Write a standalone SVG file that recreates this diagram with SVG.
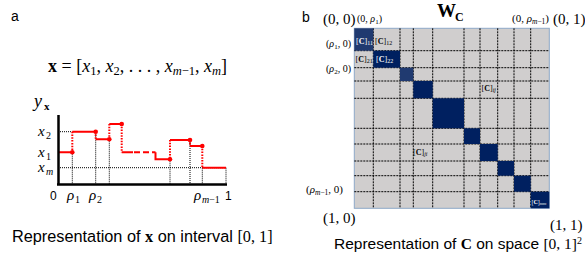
<svg xmlns="http://www.w3.org/2000/svg" width="585" height="255" viewBox="0 0 585 255">
<style>
.sans{font-family:"Liberation Sans","DejaVu Sans",sans-serif;fill:#000}
.ser{font-family:"Liberation Serif","DejaVu Serif",serif;fill:#000}
.it{font-style:italic}
.bd{font-weight:bold}
.red{stroke:#ff0000;stroke-width:2;fill:none}
.rdot{stroke:#ff0000;stroke-width:2;stroke-dasharray:1.5 1.3;fill:none}
.kdot{stroke:#000;stroke-width:1;stroke-dasharray:1 1;fill:none}
.grid{stroke:#000;stroke-width:1;stroke-dasharray:2 1;fill:none}
.dk{fill:#002060}
.lt{fill:#203a70}
.wt{fill:#ffffff}
</style>
<rect width="585" height="255" fill="#fff"/>

<g id="panel-a">
<text class="sans" x="11" y="21" font-size="14">a</text>
<text class="ser" x="48" y="72" font-size="18"><tspan class="bd">x</tspan> = [<tspan class="it">x</tspan><tspan font-size="12.5" dy="3">1</tspan><tspan dy="-3">, </tspan><tspan class="it">x</tspan><tspan font-size="12.5" dy="3">2</tspan><tspan dy="-3">, . . . , </tspan><tspan class="it">x</tspan><tspan font-size="12.5" dy="3"><tspan class="it">m</tspan>−1</tspan><tspan dy="-3">, </tspan><tspan class="it">x</tspan><tspan font-size="12.5" dy="3" class="it">m</tspan><tspan dy="-3">]</tspan></text>

<g id="axes">
<text class="ser it" x="34" y="107" font-size="18">y</text>
<text class="ser bd" x="44" y="110" font-size="11">x</text>
<text class="ser it" x="38" y="136" font-size="15">x</text><text class="ser" x="46" y="139" font-size="10">2</text>
<text class="ser it" x="38" y="157" font-size="15">x</text><text class="ser" x="46" y="160" font-size="10">1</text>
<text class="ser it" x="38" y="172" font-size="15">x</text><text class="ser it" x="46" y="175" font-size="10">m</text>
<text class="sans" x="50" y="200" font-size="12">0</text>
<text class="ser it" x="67" y="200" font-size="15">ρ</text><text class="ser" x="75" y="203" font-size="10">1</text>
<text class="ser it" x="89" y="200" font-size="15">ρ</text><text class="ser" x="97" y="203" font-size="10">2</text>
<text class="ser it" x="194" y="200" font-size="15">ρ</text><text class="ser" x="202" y="203" font-size="10"><tspan class="it">m</tspan>−1</text>
<text class="sans" x="225" y="200" font-size="12">1</text>
</g>

<g id="guides">
<path class="kdot" d="M58,131.7H72.3M58,167.7H226M72.3,152.3V184M95.7,131.7V184M109.3,139.3V184M170,159.3V184M190,140V184M202.3,167.7V184M226,167.7V184"/>
</g>

<g id="step-function">
<path class="red" d="M58,152.3H72.3M72.3,131.7H95.7M95.7,139.3H109.3M109.3,124H121.7M121.7,152.3H133M155.5,152.3V159.3H170M170,140H190M190,146H202.3M202.3,167.7H226"/>
<path class="red" stroke-dasharray="6 3" d="M134,152.3H155.5"/>
<path class="rdot" d="M72.3,131.7V152.3M95.7,131.7V139.3M109.3,124V139.3M121.7,124V152.3M170,140V159.3M190,140V146M202.3,146V167.7"/>
<g fill="#ff0000">
<circle cx="72.3" cy="152.3" r="2.3"/><circle cx="95.7" cy="131.7" r="2.3"/><circle cx="109.3" cy="139.3" r="2.3"/><circle cx="121.7" cy="124" r="2.3"/><circle cx="170" cy="159.3" r="2.3"/><circle cx="190" cy="140" r="2.3"/><circle cx="202.3" cy="146" r="2.3"/>
</g>
</g>
<path d="M58.5,115V185.5M57,184.5H227" stroke="#000" stroke-width="2.5" fill="none"/>

<text class="sans" x="12" y="242" font-size="16.3">Representation of <tspan class="ser bd">x</tspan> on interval <tspan class="ser">[0, 1]</tspan></text>
</g>

<g id="panel-b">
<text class="sans" x="302" y="22" font-size="14">b</text>
<text class="ser bd" x="437" y="17" font-size="19">W</text><text class="ser bd" x="455" y="21" font-size="12">C</text>

<g id="matrix">
<rect x="354.3" y="28.3" width="195" height="180" fill="#d0cece" stroke="#8ea9c8" stroke-width="1"/>
<path class="grid" d="M373.3,28.3V208.3M400,28.3V208.3M413.3,28.3V208.3M432.7,28.3V208.3M464,28.3V208.3M480,28.3V208.3M497.7,28.3V208.3M514,28.3V208.3M530.7,28.3V208.3M354.3,50.7H549.3M354.3,67.7H549.3M354.3,81H549.3M354.3,98.3H549.3M354.3,128.3H549.3M354.3,144H549.3M354.3,161H549.3M354.3,175.7H549.3M354.3,191.7H549.3"/>
<rect class="lt" x="354.3" y="28.3" width="19" height="22.4"/>
<rect class="dk" x="373.3" y="50.7" width="26.7" height="17"/>
<rect class="lt" x="400" y="67.7" width="13.3" height="13.3"/>
<rect class="dk" x="413.3" y="81" width="19.4" height="17.3"/>
<rect class="dk" x="432.7" y="98.3" width="31.3" height="30"/>
<rect class="dk" x="464" y="128.3" width="16" height="15.7"/>
<rect class="dk" x="480" y="144" width="17.7" height="17"/>
<rect class="dk" x="497.7" y="161" width="16.3" height="14.7"/>
<rect class="dk" x="514" y="175.7" width="16.7" height="16"/>
<rect class="dk" x="530.7" y="191.7" width="18.6" height="16.6"/>
</g>

<g id="cell-labels" font-size="8">
<text class="ser wt" x="356" y="44">[<tspan class="bd">C</tspan>]<tspan font-size="6" dy="1">11</tspan></text>
<text class="ser" x="375" y="44">[<tspan class="bd">C</tspan>]<tspan font-size="6" dy="1">12</tspan></text>
<text class="ser" x="355.5" y="62">[<tspan class="bd">C</tspan>]<tspan font-size="6" dy="1">21</tspan></text>
<text class="ser wt" x="376" y="62">[<tspan class="bd">C</tspan>]<tspan font-size="6" dy="1">22</tspan></text>
<text class="ser" x="481.5" y="91">[<tspan class="bd">C</tspan>]<tspan font-size="6" dy="1" class="it">ij</tspan></text>
<text class="ser" x="413" y="155">[<tspan class="bd">C</tspan>]<tspan font-size="6" dy="1" class="it">ji</tspan></text>
<text class="ser wt" x="531.5" y="204" font-size="6">[<tspan class="bd">C</tspan>]<tspan font-size="4.5" dy="1" class="it">mm</tspan></text>
</g>

<g id="coords">
<text class="ser" x="323" y="24" font-size="15">(0, 0)</text>
<text class="ser" x="357" y="22" font-size="10">(0, <tspan class="it">ρ</tspan><tspan font-size="7" dy="2">1</tspan><tspan dy="-2">)</tspan></text>
<text class="ser" x="326" y="47" font-size="10">(<tspan class="it">ρ</tspan><tspan font-size="7" dy="2">1</tspan><tspan dy="-2">, 0)</tspan></text>
<text class="ser" x="326" y="72" font-size="10">(<tspan class="it">ρ</tspan><tspan font-size="7" dy="2">2</tspan><tspan dy="-2">, 0)</tspan></text>
<text class="ser" x="512" y="22" font-size="11">(0, <tspan class="it">ρ</tspan><tspan font-size="7.5" dy="2"><tspan class="it">m</tspan>−1</tspan><tspan dy="-2">)</tspan></text>
<text class="ser" x="553" y="24" font-size="15">(0, 1)</text>
<text class="ser" x="306" y="193" font-size="11">(<tspan class="it">ρ</tspan><tspan font-size="7.5" dy="2"><tspan class="it">m</tspan>−1</tspan><tspan dy="-2">, 0)</tspan></text>
<text class="ser" x="323" y="223" font-size="15">(1, 0)</text>
<text class="ser" x="550" y="230" font-size="15">(1, 1)</text>
</g>

<text class="sans" x="334" y="249" font-size="15.5">Representation of <tspan class="ser bd">C</tspan> on space <tspan class="ser">[0, 1]</tspan><tspan class="ser" font-size="10" dy="-5">2</tspan></text>
</g>
</svg>
